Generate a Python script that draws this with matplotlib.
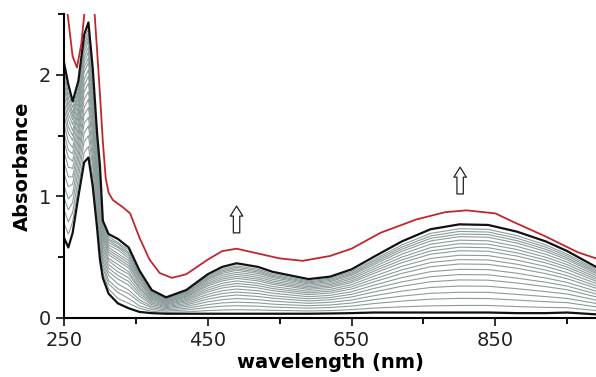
import matplotlib
matplotlib.use('Agg')
import matplotlib.pyplot as plt
import numpy as np

# Wavelength grid (nm) shared by the titration spectra
wl = [250, 256, 262, 270, 278, 284, 290, 296, 300, 304, 312, 325, 340, 355, 372, 392,
      420, 450, 470, 490, 520, 540, 590, 620, 650, 680, 720, 760, 800, 840, 880, 920, 950, 990]

# first spectrum (bottom black trace)
first_abs = [0.66, 0.58, 0.70, 1.00, 1.28, 1.32, 1.08, 0.74, 0.48, 0.33, 0.20, 0.12, 0.08, 0.05, 0.04, 0.035,
             0.035, 0.035, 0.035, 0.035, 0.035, 0.035, 0.035, 0.037, 0.04, 0.045, 0.045, 0.045, 0.045, 0.045,
             0.04, 0.04, 0.045, 0.03]

# last titration spectrum (top black trace)
last_abs = [2.10, 1.92, 1.78, 1.95, 2.33, 2.43, 2.05, 1.52, 1.25, 0.80, 0.69, 0.65, 0.58, 0.39, 0.23, 0.17,
            0.23, 0.36, 0.42, 0.45, 0.42, 0.38, 0.32, 0.34, 0.40, 0.50, 0.63, 0.73, 0.77, 0.765,
            0.71, 0.63, 0.55, 0.42]

# intermediate spectra, one row per wavelength in wl
gray_table = [
    [0.78, 0.89, 0.99, 1.09, 1.19, 1.28, 1.37, 1.45, 1.52, 1.60, 1.67, 1.73, 1.78, 1.84, 1.90, 1.94, 1.99, 2.03],
    [0.69, 0.79, 0.89, 0.98, 1.08, 1.16, 1.24, 1.32, 1.38, 1.45, 1.52, 1.57, 1.63, 1.68, 1.73, 1.77, 1.81, 1.85],
    [0.79, 0.87, 0.95, 1.02, 1.10, 1.16, 1.23, 1.29, 1.35, 1.40, 1.46, 1.50, 1.54, 1.59, 1.63, 1.66, 1.69, 1.73],
    [1.08, 1.15, 1.22, 1.29, 1.35, 1.41, 1.47, 1.52, 1.57, 1.62, 1.67, 1.70, 1.74, 1.78, 1.82, 1.85, 1.87, 1.90],
    [1.36, 1.45, 1.52, 1.60, 1.67, 1.73, 1.80, 1.86, 1.91, 1.96, 2.02, 2.06, 2.10, 2.14, 2.18, 2.22, 2.25, 2.28],
    [1.41, 1.50, 1.58, 1.65, 1.73, 1.80, 1.86, 1.93, 1.99, 2.04, 2.10, 2.14, 2.19, 2.23, 2.28, 2.31, 2.34, 2.38],
    [1.16, 1.24, 1.30, 1.37, 1.44, 1.50, 1.56, 1.61, 1.66, 1.71, 1.76, 1.80, 1.84, 1.88, 1.91, 1.94, 1.97, 2.00],
    [0.80, 0.87, 0.92, 0.97, 1.03, 1.08, 1.12, 1.17, 1.21, 1.25, 1.29, 1.32, 1.35, 1.38, 1.41, 1.43, 1.46, 1.48],
    [0.54, 0.60, 0.66, 0.71, 0.77, 0.81, 0.86, 0.90, 0.94, 0.98, 1.02, 1.05, 1.08, 1.11, 1.14, 1.17, 1.19, 1.21],
    [0.37, 0.41, 0.44, 0.47, 0.50, 0.53, 0.56, 0.59, 0.61, 0.64, 0.66, 0.68, 0.70, 0.72, 0.73, 0.75, 0.76, 0.78],
    [0.24, 0.28, 0.31, 0.35, 0.38, 0.41, 0.44, 0.47, 0.49, 0.52, 0.54, 0.56, 0.58, 0.60, 0.62, 0.64, 0.65, 0.67],
    [0.16, 0.21, 0.24, 0.28, 0.32, 0.35, 0.38, 0.41, 0.44, 0.47, 0.49, 0.51, 0.53, 0.56, 0.58, 0.59, 0.61, 0.62],
    [0.12, 0.16, 0.20, 0.23, 0.27, 0.30, 0.33, 0.36, 0.38, 0.41, 0.43, 0.45, 0.47, 0.49, 0.51, 0.53, 0.54, 0.56],
    [0.08, 0.10, 0.13, 0.15, 0.18, 0.20, 0.22, 0.24, 0.25, 0.27, 0.29, 0.30, 0.32, 0.33, 0.34, 0.35, 0.36, 0.37],
    [0.055, 0.07, 0.084, 0.097, 0.11, 0.122, 0.133, 0.145, 0.154, 0.164, 0.173, 0.181, 0.188, 0.196, 0.203, 0.209, 0.215, 0.221],
    [0.046, 0.057, 0.066, 0.076, 0.085, 0.093, 0.101, 0.109, 0.116, 0.123, 0.13, 0.135, 0.14, 0.146, 0.151, 0.155, 0.159, 0.163],
    [0.051, 0.066, 0.08, 0.094, 0.107, 0.119, 0.131, 0.142, 0.152, 0.162, 0.172, 0.179, 0.187, 0.195, 0.203, 0.209, 0.214, 0.22],
    [0.061, 0.087, 0.11, 0.133, 0.155, 0.175, 0.194, 0.214, 0.23, 0.246, 0.263, 0.276, 0.289, 0.302, 0.315, 0.324, 0.334, 0.344],
    [0.066, 0.097, 0.124, 0.151, 0.177, 0.201, 0.224, 0.247, 0.266, 0.285, 0.305, 0.32, 0.335, 0.351, 0.366, 0.378, 0.389, 0.401],
    [0.068, 0.101, 0.13, 0.16, 0.189, 0.213, 0.238, 0.263, 0.284, 0.305, 0.326, 0.342, 0.359, 0.375, 0.392, 0.404, 0.417, 0.429],
    [0.066, 0.097, 0.124, 0.151, 0.177, 0.201, 0.224, 0.247, 0.266, 0.285, 0.305, 0.32, 0.335, 0.351, 0.366, 0.378, 0.389, 0.401],
    [0.063, 0.09, 0.114, 0.139, 0.163, 0.183, 0.204, 0.225, 0.242, 0.259, 0.277, 0.29, 0.304, 0.318, 0.332, 0.342, 0.352, 0.363],
    [0.058, 0.081, 0.101, 0.121, 0.14, 0.158, 0.175, 0.192, 0.206, 0.22, 0.235, 0.246, 0.257, 0.269, 0.28, 0.289, 0.297, 0.306],
    [0.061, 0.086, 0.107, 0.129, 0.15, 0.168, 0.186, 0.205, 0.22, 0.235, 0.251, 0.263, 0.275, 0.287, 0.299, 0.308, 0.318, 0.327],
    [0.069, 0.098, 0.123, 0.148, 0.173, 0.195, 0.216, 0.238, 0.256, 0.274, 0.292, 0.306, 0.321, 0.335, 0.35, 0.36, 0.371, 0.382],
    [0.081, 0.118, 0.15, 0.182, 0.213, 0.241, 0.268, 0.295, 0.318, 0.341, 0.364, 0.382, 0.40, 0.418, 0.436, 0.45, 0.464, 0.477],
    [0.092, 0.139, 0.18, 0.221, 0.261, 0.297, 0.332, 0.367, 0.396, 0.425, 0.455, 0.478, 0.501, 0.525, 0.548, 0.566, 0.583, 0.601],
    [0.10, 0.155, 0.203, 0.251, 0.298, 0.34, 0.381, 0.422, 0.456, 0.49, 0.525, 0.552, 0.579, 0.607, 0.634, 0.655, 0.675, 0.696],
    [0.103, 0.161, 0.212, 0.263, 0.313, 0.357, 0.40, 0.444, 0.48, 0.516, 0.553, 0.582, 0.611, 0.64, 0.669, 0.69, 0.712, 0.734],
    [0.103, 0.16, 0.211, 0.261, 0.311, 0.355, 0.398, 0.441, 0.477, 0.513, 0.549, 0.578, 0.607, 0.635, 0.664, 0.686, 0.707, 0.729],
    [0.094, 0.147, 0.194, 0.241, 0.288, 0.328, 0.368, 0.409, 0.442, 0.476, 0.509, 0.536, 0.563, 0.589, 0.616, 0.636, 0.656, 0.677],
    [0.087, 0.134, 0.176, 0.217, 0.258, 0.294, 0.329, 0.365, 0.394, 0.424, 0.453, 0.477, 0.50, 0.524, 0.547, 0.565, 0.583, 0.601],
    [0.085, 0.126, 0.161, 0.197, 0.232, 0.262, 0.292, 0.323, 0.348, 0.373, 0.399, 0.419, 0.439, 0.459, 0.479, 0.494, 0.51, 0.525],
    [0.061, 0.092, 0.12, 0.147, 0.174, 0.198, 0.221, 0.245, 0.264, 0.284, 0.303, 0.319, 0.334, 0.35, 0.365, 0.377, 0.389, 0.401],
]

# red trace (final species)
red_wl = [250, 256, 262, 268, 274, 280, 286, 292, 296, 300, 304, 308, 312, 318, 332, 342, 355, 369, 383,
          400, 420, 450, 470, 490, 520, 550, 582, 620, 650, 690, 740, 780, 810, 850, 875, 920, 965, 990]
red_abs = [2.75, 2.45, 2.15, 2.06, 2.25, 2.60, 2.90, 2.55, 2.20, 1.84, 1.45, 1.15, 1.03, 0.97, 0.91, 0.86, 0.66, 0.48, 0.37,
           0.33, 0.36, 0.48, 0.55, 0.57, 0.53, 0.49, 0.47, 0.51, 0.57, 0.70, 0.81, 0.87, 0.885, 0.86, 0.79, 0.67, 0.54, 0.49]

# arrows showing growth of the bands
arrow_x = [490, 801]
arrow_y0 = [0.70, 1.02]
arrow_y1 = [0.92, 1.24]

x_ticks = [250, 450, 650, 850]
x_minor = [350, 550, 750, 950]

fig = plt.figure(figsize=(5.96, 3.77), dpi=100)
ax = fig.add_axes([0.1074, 0.1565, 0.8926, 0.8065])

gray = np.array(gray_table).T
for curve in gray:
    ax.plot(wl, curve, color='#8d9b9b', lw=0.8)

ax.plot(wl, first_abs, color='#111111', lw=1.6)
ax.plot(wl, last_abs, color='#111111', lw=1.6)
ax.plot(red_wl, red_abs, color='#c0272d', lw=1.3)

for x, y0, y1 in zip(arrow_x, arrow_y0, arrow_y1):
    ax.annotate('', xy=(x, y1), xytext=(x, y0),
                arrowprops=dict(arrowstyle='simple,head_width=0.45,head_length=0.36,tail_width=0.23',
                                mutation_scale=20, fc='white', ec='#222222', lw=0.9,
                                shrinkA=0, shrinkB=0))

ax.set_xlim(250, 990)
ax.set_ylim(0, 2.5)
ax.set_xticks(x_ticks)
ax.set_xticks(x_minor, minor=True)
ax.set_yticks([0, 1, 2])
ax.set_yticks([0.5, 1.5, 2.5], minor=True)
ax.tick_params(which='major', length=6, width=1.3, labelsize=14, colors='#222222')
ax.tick_params(which='minor', length=4, width=1.3)

for s in ['top', 'right']:
    ax.spines[s].set_visible(False)
for s in ['left', 'bottom']:
    ax.spines[s].set_linewidth(1.5)

ax.set_xlabel('wavelength (nm)', fontsize=14, fontweight='bold', labelpad=2)
ax.set_ylabel('Absorbance', fontsize=14, fontweight='bold', labelpad=5)

fig.savefig('out.png', dpi=100)
